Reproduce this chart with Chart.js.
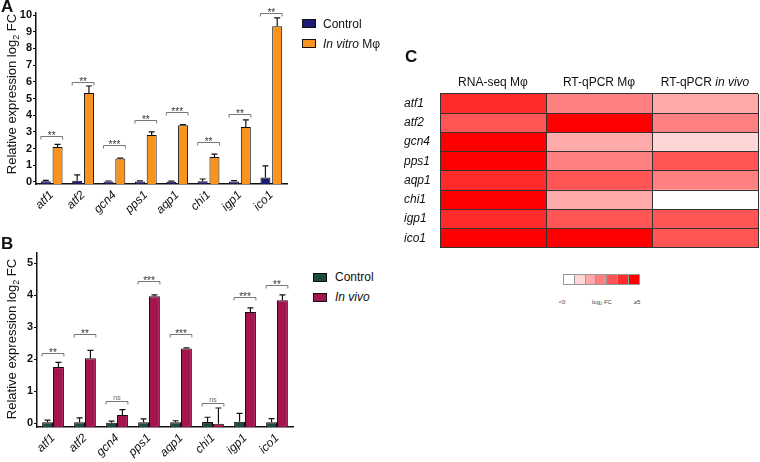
<!DOCTYPE html>
<html><head><meta charset="utf-8">
<script src="https://cdn.jsdelivr.net/npm/chart.js@4.4.1/dist/chart.umd.min.js"></script>
<style>
body{margin:0;background:#fff;}
#wrap{position:relative;width:760px;height:462px;overflow:hidden;font-family:"Liberation Sans",Arial,sans-serif;background:#fff;color:#111;}
canvas{position:absolute;}
.plbl{position:absolute;font-weight:bold;font-size:17px;line-height:17px;}
.ytitle{position:absolute;font-size:13px;line-height:14px;white-space:nowrap;transform:translate(-50%,-50%) rotate(-90deg);}
.ytitle sub{font-size:9px;vertical-align:-3px;line-height:0;}
.leg{position:absolute;font-size:12px;line-height:12px;white-space:nowrap;}
.sw{position:absolute;width:12px;height:7px;border:1px solid #111;}
.hk{position:absolute;width:10px;height:10px;border:1px solid #999;box-sizing:border-box;}
.hkl{position:absolute;font-size:6px;line-height:6px;color:#444;white-space:nowrap;transform:translateX(-50%);}
.hkl sub{font-size:4px;vertical-align:-1px;line-height:0;}
</style></head><body>
<div id="wrap">
  <canvas id="cA" width="300" height="215" style="left:0;top:0"></canvas>
  <canvas id="cB" width="300" height="247" style="left:0;top:215px"></canvas>
  <canvas id="cC" width="356" height="198" style="left:404px;top:60px"></canvas>

  <div class="plbl" style="left:1px;top:-2px">A</div>
  <div class="plbl" style="left:1px;top:235px">B</div>
  <div class="plbl" style="left:405px;top:48px">C</div>

  <div class="ytitle" style="left:12px;top:94px">Relative expression log<sub>2</sub> FC</div>
  <div class="ytitle" style="left:12px;top:339px">Relative expression log<sub>2</sub> FC</div>

  <div class="sw" style="left:302px;top:19px;background:#1b1b74"></div>
  <div class="leg" style="left:323px;top:18px">Control</div>
  <div class="sw" style="left:302px;top:39px;background:#f7931e"></div>
  <div class="leg" style="left:323px;top:38px"><i>In vitro</i> Mφ</div>

  <div class="sw" style="left:313px;top:273px;background:#1c4b3c"></div>
  <div class="leg" style="left:335px;top:271px">Control</div>
  <div class="sw" style="left:313px;top:293px;background:#a3154f"></div>
  <div class="leg" style="left:335px;top:291px"><i>In vivo</i></div>

  <div id="heatKey"></div>
</div>
<script>
// ---------- data ----------
const genes = ['atf1','atf2','gcn4','pps1','aqp1','chi1','igp1','ico1'];

// Panel A: in vitro macrophages
const controlA   = [0.04, 0.08, 0.03, 0.03, 0.02, 0.05, 0.03, 0.27];
const controlASD = [0.06, 0.35, 0.03, 0.04, 0.03, 0.13, 0.05, 0.70];
const inVitroA   = [2.10, 5.33, 1.40, 2.82, 3.40, 1.50, 3.30, 9.33];
const inVitroASD = [0.15, 0.42, 0.03, 0.18, 0.03, 0.17, 0.42, 0.50];
const bracketA   = [2.75, 6.00, 2.20, 3.70, 4.20, 2.40, 4.10, 10.10];
const sigA       = ['**','**','***','**','***','**','**','**'];

// Panel B: in vivo
const controlB   = [0.02, 0.02, 0.01, 0.02, 0.02, 0.03, 0.04, 0.02];
const controlBSD = [0.07, 0.14, 0.05, 0.11, 0.05, 0.15, 0.26, 0.12];
const inVivoB    = [1.75, 2.03, 0.25, 3.97, 2.33, -0.02, 3.47, 3.84];
const inVivoBSD  = [0.15, 0.24, 0.17, 0.04, 0.02, 0.49, 0.13, 0.17];
const bracketB   = [2.20, 2.78, 0.68, 4.43, 2.80, 0.63, 3.93, 4.32];
const sigB       = ['**','**','ns','***','***','ns','***','**'];

// Panel C: heatmap (log2 FC)
const rnaSeqMf   = [4.4, 3.6, 5.7, 5.4, 4.6, 6.2, 4.3, 6.0];
const heatCols   = ['RNA-seq Mφ','RT-qPCR Mφ','RT-qPCR in vivo'];
const heatVals   = [rnaSeqMf, inVitroA, inVivoB];
const heatPalette = ['#ffffff','#ffd6d6','#ffaaaa','#ff8080','#ff5555','#ff2b2b','#ff0000'];
const ticksA = {min:-0.12, max:10.12, step:1};
const ticksB = {min:-0.125, max:5.32, step:1};

// ---------- helpers ----------
const FAM = "'Liberation Sans', Arial, sans-serif";
function heatColor(v){ if (v < 0) return heatPalette[0]; return heatPalette[Math.min(6, Math.floor(v) + 1)]; }

function errPlugin(sds){
  return { id:'errbars', afterDatasetsDraw(chart){
    const ctx = chart.ctx, ys = chart.scales.y;
    chart.data.datasets.forEach((ds, di) => {
      chart.getDatasetMeta(di).data.forEach((bar, i) => {
        const v = ds.data[i], top = v + sds[di][i];
        const y0 = ys.getPixelForValue(v), y1 = ys.getPixelForValue(top);
        ctx.save(); ctx.strokeStyle = '#111'; ctx.lineWidth = 1.2;
        ctx.beginPath(); ctx.moveTo(bar.x, y0); ctx.lineTo(bar.x, y1);
        ctx.moveTo(bar.x - 3, y1); ctx.lineTo(bar.x + 3, y1); ctx.stroke(); ctx.restore();
      });
    });
  }};
}
function sigPlugin(levels, labels){
  return { id:'sig', afterDatasetsDraw(chart){
    const ctx = chart.ctx, ys = chart.scales.y;
    const m0 = chart.getDatasetMeta(0).data, m1 = chart.getDatasetMeta(1).data;
    levels.forEach((lv, i) => {
      const l = m0[i].x - m0[i].width / 2, r = m1[i].x + m1[i].width / 2;
      const y = Math.round(ys.getPixelForValue(lv)) + 0.5;
      ctx.save(); ctx.strokeStyle = '#777'; ctx.lineWidth = 1;
      ctx.beginPath(); ctx.moveTo(l, y + 3); ctx.lineTo(l, y); ctx.lineTo(r, y); ctx.lineTo(r, y + 3); ctx.stroke();
      ctx.fillStyle = '#333'; ctx.textAlign = 'center'; ctx.textBaseline = 'alphabetic';
      if (labels[i] === 'ns') { ctx.font = '7px ' + FAM; ctx.fillStyle = '#666'; ctx.fillText('ns', (l + r) / 2, y - 1.5); }
      else { ctx.font = '10px ' + FAM; ctx.fillText(labels[i], (l + r) / 2, y + 2.5); }
      ctx.restore();
    });
  }};
}
function barChart(id, d0, d1, c0, c1, sd0, sd1, lev, sig, t, pad, xh, yw, barPct, catPct){
  return new Chart(document.getElementById(id), {
    type:'bar',
    data:{ labels:genes, datasets:[
      {label:'Control', data:d0, backgroundColor:c0, borderColor:'#111', borderWidth:1, base:t.min},
      {label:'Treatment', data:d1, backgroundColor:c1, borderColor:'#111', borderWidth:1, base:t.min}
    ]},
    options:{
      responsive:false, animation:false,
      layout:{padding:pad},
      datasets:{bar:{barPercentage:barPct, categoryPercentage:catPct}},
      plugins:{legend:{display:false}, tooltip:{enabled:false}},
      scales:{
        x:{ grid:{display:false, tickLength:3}, border:{color:'#111', width:1.5},
            ticks:{color:'#111', font:{family:FAM, size:12, style:'italic'}, minRotation:45, maxRotation:45, padding:1, autoSkip:false},
            afterFit:s => { s.height = xh; } },
        y:{ min:t.min, max:t.max,
            ticks:{stepSize:t.step, includeBounds:false, color:'#111', font:{family:FAM, size:11, weight:'bold'}, padding:1},
            grid:{drawOnChartArea:false, tickLength:3, color:'#111', tickWidth:1.2},
            border:{color:'#111', width:1.5},
            afterFit:s => { s.width = yw; } }
      }
    },
    plugins:[errPlugin([sd0, sd1]), sigPlugin(lev, sig)]
  });
}

barChart('cA', controlA, inVitroA, '#1b1b74', '#f7931e', controlASD, inVitroASD, bracketA, sigA, ticksA,
         {left:0, right:13, top:13, bottom:0}, 31, 36, 0.85, 0.75);
barChart('cB', controlB, inVivoB, '#1c4b3c', '#a3154f', controlBSD, inVivoBSD, bracketB, sigB, ticksB,
         {left:0, right:7, top:38, bottom:0}, 35, 37, 1.0, 0.68);

// ---------- heatmap ----------
const headerPlugin = { id:'headers', afterDraw(chart){
  const ctx = chart.ctx, xs = chart.scales.x, y = chart.chartArea.top - 11;
  ctx.save(); ctx.fillStyle = '#111'; ctx.textBaseline = 'middle';
  heatCols.forEach((name, j) => {
    const cx = xs.getPixelForValue(j + 0.5);
    let parts = [[name, '']];
    if (name.endsWith('in vivo')) parts = [[name.replace('in vivo',''), ''], ['in vivo', 'italic ']];
    let w = 0;
    parts.forEach(p => { ctx.font = p[1] + '12px ' + FAM; w += ctx.measureText(p[0]).width; });
    let x = cx - w / 2; ctx.textAlign = 'left';
    parts.forEach(p => { ctx.font = p[1] + '12px ' + FAM; ctx.fillText(p[0], x, y); x += ctx.measureText(p[0]).width; });
  });
  ctx.restore();
}};
new Chart(document.getElementById('cC'), {
  type:'bar',
  data:{ labels:genes, datasets: heatCols.map((c, j) => ({
    label:c, data:genes.map(() => 1), backgroundColor:heatVals[j].map(heatColor), borderWidth:0 })) },
  options:{
    indexAxis:'y', responsive:false, animation:false,
    layout:{padding:{left:0, right:2, top:34, bottom:2}},
    datasets:{bar:{barPercentage:1, categoryPercentage:1}},
    plugins:{legend:{display:false}, tooltip:{enabled:false}},
    scales:{
      x:{ type:'linear', stacked:true, min:0, max:3, ticks:{display:false, stepSize:1},
          grid:{color:'#333', drawTicks:false, z:1}, border:{display:false}, afterFit:s => { s.height = 0; } },
      y:{ stacked:true, ticks:{crossAlign:'far', color:'#111', font:{family:FAM, size:12, style:'italic'}},
          grid:{offset:true, color:'#333', drawTicks:false, z:1}, border:{display:false}, afterFit:s => { s.width = 36; } }
    }
  },
  plugins:[headerPlugin]
});

// color key
const key = document.getElementById('heatKey');
heatPalette.forEach((c, i) => {
  const d = document.createElement('div'); d.className = 'hk';
  d.style.left = (563 + i * 10.8) + 'px'; d.style.top = '274px'; d.style.width = '11.8px'; d.style.height = '11px';
  d.style.background = c; key.appendChild(d);
});
[['&lt;0', 562], ['log<sub>2</sub> FC', 602], ['≥5', 637]].forEach(([t, x]) => {
  const s = document.createElement('div'); s.className = 'hkl'; s.innerHTML = t;
  s.style.left = x + 'px'; s.style.top = '299px'; key.appendChild(s);
});
</script>
</body></html>
